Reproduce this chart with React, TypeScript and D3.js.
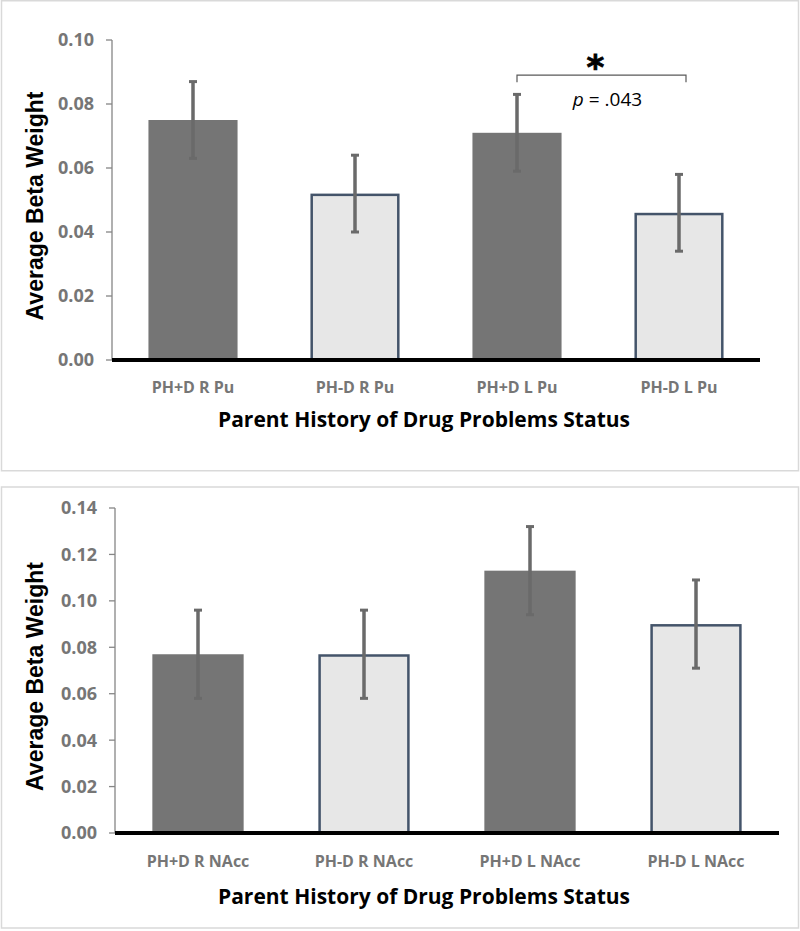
import { useEffect, useRef } from "react";
import * as d3 from "d3";

// data
const topCategories = ["PH+D R Pu", "PH-D R Pu", "PH+D L Pu", "PH-D L Pu"];
const topMeans = [0.075, 0.052, 0.071, 0.046];
const topErrors = [0.012, 0.012, 0.012, 0.012];
const topTicks = [0, 0.02, 0.04, 0.06, 0.08, 0.1];

const bottomCategories = ["PH+D R NAcc", "PH-D R NAcc", "PH+D L NAcc", "PH-D L NAcc"];
const bottomMeans = [0.077, 0.077, 0.113, 0.09];
const bottomErrors = [0.019, 0.019, 0.019, 0.019];
const bottomTicks = [0, 0.02, 0.04, 0.06, 0.08, 0.1, 0.12, 0.14];

const groups = ["PH+D", "PH-D", "PH+D", "PH-D"];

const xTitle = "Parent History of Drug Problems Status";
const yTitle = "Average Beta Weight";

const FONT = "'Open Sans', 'Liberation Sans', sans-serif";

const App = () => {
  const ref = useRef<SVGSVGElement>(null);

  useEffect(() => {
    document.body.style.margin = "0";
    const svg = d3.select(ref.current);
    svg.selectAll("*").remove();

    const drawPanel = (opts: {
      box: [number, number, number, number];
      x0: number;
      x1: number;
      yTop: number;
      yBottom: number;
      maxVal: number;
      categories: string[];
      means: number[];
      errors: number[];
      ticks: number[];
      catY: number;
      titleY: number;
      yTitleX: number;
    }) => {
      const [bx, by, bw, bh] = opts.box;
      const g = svg.append("g");

      g.append("rect")
        .attr("x", bx)
        .attr("y", by)
        .attr("width", bw)
        .attr("height", bh)
        .attr("fill", "#fff")
        .attr("stroke", "#d9d9d9")
        .attr("stroke-width", 1.5);

      const x = d3
        .scaleBand()
        .domain(opts.categories)
        .range([opts.x0, opts.x1])
        .paddingInner(0.45)
        .paddingOuter(0.225);

      const y = d3
        .scaleLinear()
        .domain([0, opts.maxVal])
        .range([opts.yBottom, opts.yTop]);

      // y axis
      g.append("line")
        .attr("x1", opts.x0)
        .attr("x2", opts.x0)
        .attr("y1", y(opts.maxVal))
        .attr("y2", y(0))
        .attr("stroke", "#868686")
        .attr("stroke-width", 1.3);

      opts.ticks.forEach((t) => {
        g.append("line")
          .attr("x1", opts.x0 - 6)
          .attr("x2", opts.x0)
          .attr("y1", y(t))
          .attr("y2", y(t))
          .attr("stroke", "#868686")
          .attr("stroke-width", 1.3);
        g.append("text")
          .attr("x", opts.x0 - 18)
          .attr("y", y(t))
          .attr("dy", "0.36em")
          .attr("text-anchor", "end")
          .attr("font-family", FONT)
          .attr("font-weight", "bold")
          .attr("font-size", 18)
          .attr("fill", "#767676")
          .text(d3.format(".2f")(t));
      });

      // bars
      opts.categories.forEach((c, i) => {
        const dark = groups[i] === "PH+D";
        const bxp = x(c)!;
        const inset = dark ? 0 : 1.25;
        g.append("rect")
          .attr("x", bxp + inset)
          .attr("y", y(opts.means[i]) + inset)
          .attr("width", x.bandwidth() - inset * 2)
          .attr("height", y(0) - y(opts.means[i]) - inset)
          .attr("fill", dark ? "#757575" : "#e7e7e7")
          .attr("stroke", dark ? "none" : "#44546a")
          .attr("stroke-width", 2.5);
      });

      // x axis line
      g.append("line")
        .attr("x1", opts.x0)
        .attr("x2", opts.x1)
        .attr("y1", y(0))
        .attr("y2", y(0))
        .attr("stroke", "#000")
        .attr("stroke-width", 4);

      // error bars
      opts.categories.forEach((c, i) => {
        const cx = x(c)! + x.bandwidth() / 2;
        const hi = y(opts.means[i] + opts.errors[i]);
        const lo = y(opts.means[i] - opts.errors[i]);
        g.append("line")
          .attr("x1", cx)
          .attr("x2", cx)
          .attr("y1", hi)
          .attr("y2", lo)
          .attr("stroke", "#6a6a6a")
          .attr("stroke-width", 3.5);
        [hi, lo].forEach((yy) => {
          g.append("line")
            .attr("x1", cx - 4)
            .attr("x2", cx + 4)
            .attr("y1", yy)
            .attr("y2", yy)
            .attr("stroke", "#6a6a6a")
            .attr("stroke-width", 3);
        });
      });

      // category labels
      opts.categories.forEach((c) => {
        g.append("text")
          .attr("x", x(c)! + x.bandwidth() / 2)
          .attr("y", opts.catY)
          .attr("text-anchor", "middle")
          .attr("font-family", FONT)
          .attr("font-weight", "bold")
          .attr("font-size", 16)
          .attr("fill", "#767676")
          .text(c);
      });

      g.append("text")
        .attr("x", 424)
        .attr("y", opts.titleY)
        .attr("text-anchor", "middle")
        .attr("font-family", FONT)
        .attr("font-weight", "bold")
        .attr("font-size", 21)
        .attr("fill", "#000")
        .text(xTitle);

      g.append("text")
        .attr(
          "transform",
          `translate(${opts.yTitleX},${(y(0) + y(opts.maxVal)) / 2 + 6}) rotate(-90)`
        )
        .attr("text-anchor", "middle")
        .attr("font-family", "'Liberation Sans', Arial, sans-serif")
        .attr("font-weight", "bold")
        .attr("font-size", 23)
        .attr("fill", "#000")
        .text(yTitle);

      return { g, x, y };
    };

    const top = drawPanel({
      box: [1.5, 0.75, 797, 470],
      x0: 112,
      x1: 760,
      yTop: 40,
      yBottom: 360,
      maxVal: 0.1,
      categories: topCategories,
      means: topMeans,
      errors: topErrors,
      ticks: topTicks,
      catY: 393,
      titleY: 427,
      yTitleX: 43,
    });

    drawPanel({
      box: [1.5, 487, 797, 441],
      x0: 115,
      x1: 779,
      yTop: 508,
      yBottom: 833,
      maxVal: 0.14,
      categories: bottomCategories,
      means: bottomMeans,
      errors: bottomErrors,
      ticks: bottomTicks,
      catY: 867,
      titleY: 904,
      yTitleX: 43,
    });

    // significance bracket between the two left-hemisphere Pu bars
    const { g, x, y } = top;
    const bx1 = x(topCategories[2])! + x.bandwidth() / 2;
    const bx2 = x(topCategories[3])! + x.bandwidth() / 2 + 7;
    const by = y(0.089);
    g.append("path")
      .attr("d", `M${bx1},${by + 7}V${by}H${bx2}V${by + 7}`)
      .attr("fill", "none")
      .attr("stroke", "#595959")
      .attr("stroke-width", 1.2);

    const mid = (bx1 + bx2) / 2;
    g.append("text")
      .attr("x", mid - 6)
      .attr("y", by + 4)
      .attr("text-anchor", "middle")
      .attr("font-family", "'DejaVu Sans', sans-serif")
      .attr("font-weight", "bold")
      .attr("font-size", 34)
      .attr("stroke", "#000")
      .attr("stroke-width", 0.8)
      .attr("fill", "#000")
      .text("*");

    const pText = g
      .append("text")
      .attr("x", mid + 6)
      .attr("y", by + 31)
      .attr("text-anchor", "middle")
      .attr("font-family", FONT)
      .attr("font-size", 19)
      .attr("fill", "#000");
    pText.append("tspan").attr("font-style", "italic").text("p");
    pText.append("tspan").text(" = .043");
  }, []);

  return <svg ref={ref} width={800} height={931} style={{ display: "block" }} />;
};

export default App;
